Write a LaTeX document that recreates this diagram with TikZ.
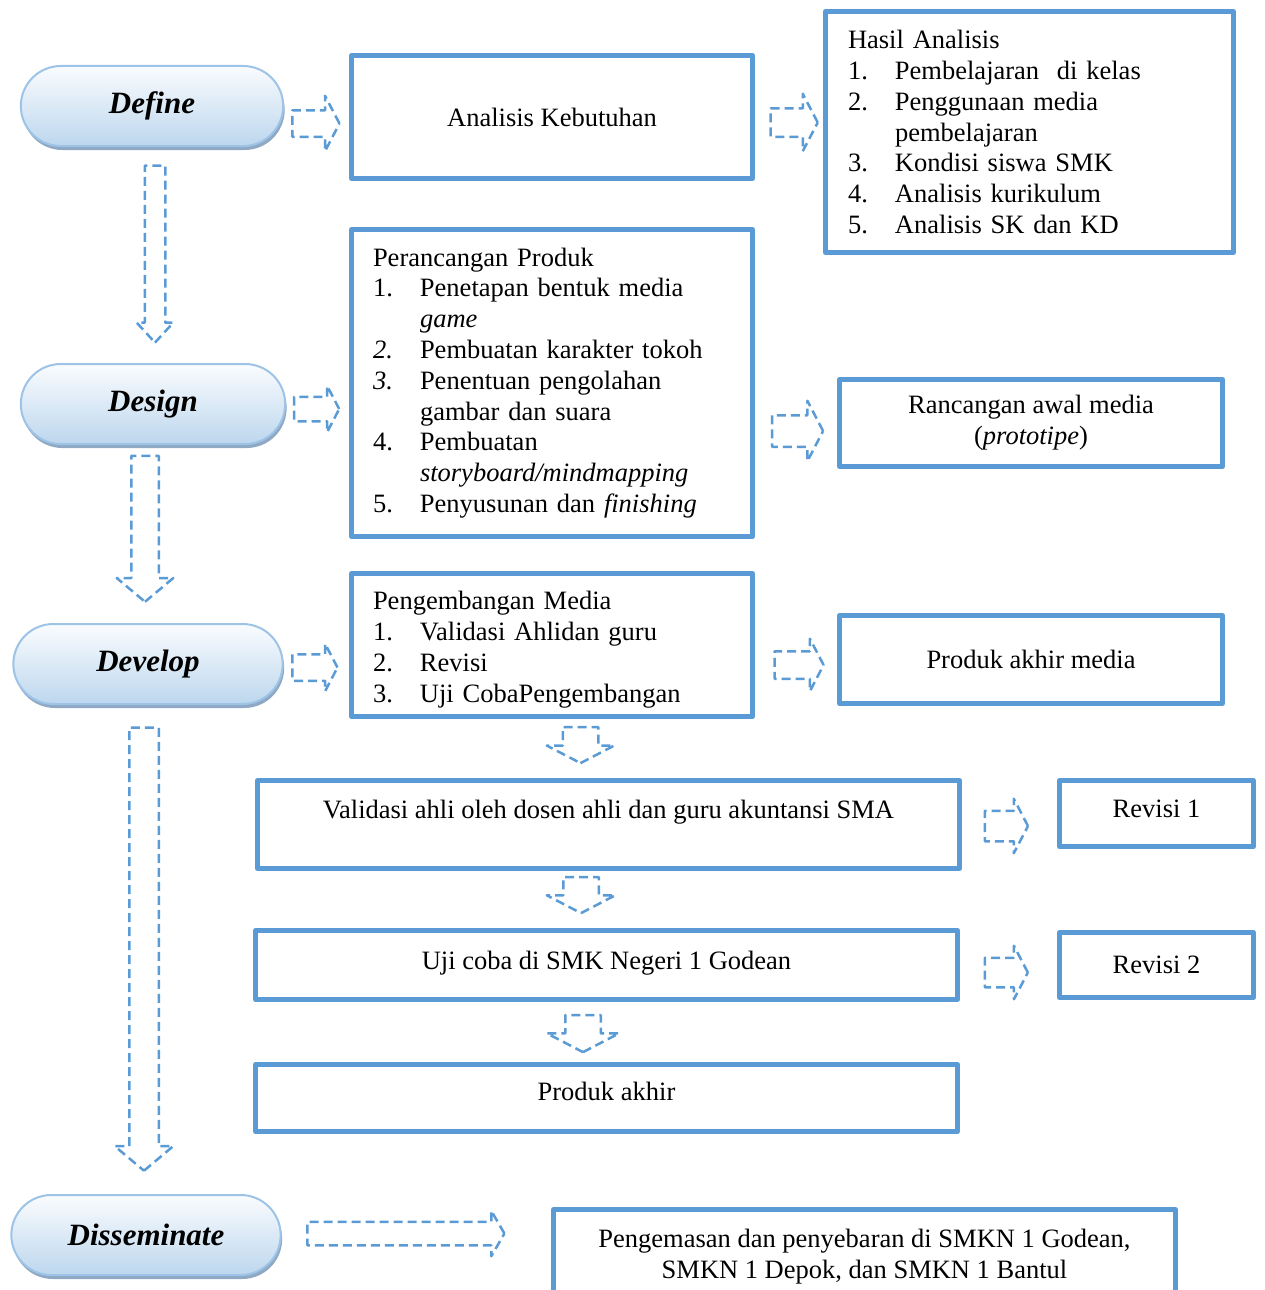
\documentclass[tikz,border=0pt]{standalone}
\usepackage{fontspec}
\setmainfont{Liberation Serif}
\usepackage{xcolor}
\usepackage{tikz}
\usetikzlibrary{shapes.misc,shapes.arrows,shadows}

\definecolor{boxblue}{RGB}{91,155,213}
\definecolor{pillline}{RGB}{157,195,230}
\definecolor{pilltop}{RGB}{250,252,254}
\definecolor{pillbot}{RGB}{189,215,238}
\definecolor{pillshadow}{RGB}{143,168,196}

\newcommand{\itm}[1]{\makebox[47pt][l]{#1}}
\newcommand{\cnt}{\hspace*{47pt}}

\begin{document}
\begin{tikzpicture}[x=1pt,y=-1pt,line join=round,
  every node/.style={font=\fontsize{26.5}{30.8}\selectfont},
  stage/.style={rounded rectangle,draw=pillline,line width=2pt,
    top color=pilltop,bottom color=pillbot,minimum height=80pt,
    font=\fontsize{31}{36}\selectfont\bfseries\itshape,
    drop shadow={shadow xshift=1.5pt,shadow yshift=-4pt,fill=pillshadow,opacity=1}},
  stepbox/.style={draw=boxblue,line width=5pt,fill=white,inner sep=0pt},
  blk/.style n args={4}{single arrow,draw=boxblue,line width=2.5pt,
    dash pattern=on 9pt off 5pt,inner xsep=0pt,inner ysep={#3*0.5pt},
    minimum height=#1pt,single arrow head extend={(#2-#3)*0.5pt},
    single arrow tip angle=#4,single arrow head indent=0pt}]
  \useasboundingbox (0,0) rectangle (1264,1290);

  % stages
  \node[stage,minimum width=269pt] (define) at (152,106) {Define};
  \node[stage,minimum width=271pt] (design) at (153,404) {Design};
  \node[stage,minimum width=276pt] (develop) at (148,664) {Develop};
  \node[stage,minimum width=276pt] (dissem) at (146,1235) {Disseminate};

  % boxes
  \node[stepbox,minimum width=401pt,minimum height=123pt] (analisis) at (552,117) {Analisis Kebutuhan};
  \node[stepbox,minimum width=408pt,minimum height=241pt,text width=363pt,align=left] (hasil) at (1029.5,132) {Hasil Analisis\\
    \itm{1.}Pembelajaran\ \ di kelas\\
    \itm{2.}Penggunaan media\\
    \cnt pembelajaran\\
    \itm{3.}Kondisi siswa SMK\\
    \itm{4.}Analisis kurikulum\\
    \itm{5.}Analisis SK dan KD};
  \node[stepbox,minimum width=401pt,minimum height=307pt,text width=358pt,align=left] (rancang) at (552,383) {Perancangan Produk\\
    \itm{1.}Penetapan bentuk media\\
    \cnt\textit{game}\\
    \itm{\textit{2.}}Pembuatan karakter tokoh\\
    \itm{\textit{3.}}Penentuan pengolahan\\
    \cnt gambar dan suara\\
    \itm{4.}Pembuatan\\
    \cnt\textit{storyboard/mindmapping}\\
    \itm{5.}Penyusunan dan \textit{finishing}};
  \node[stepbox,minimum width=383pt,minimum height=87pt,align=center] (awal) at (1031,423) {Rancangan awal media\\(\textit{prototipe})};
  \node[stepbox,minimum width=401pt,minimum height=143pt,text width=358pt,align=left] (kembang) at (552,645) {\rule{0pt}{28pt}Pengembangan Media\\
    \itm{1.}Validasi Ahlidan guru\\
    \itm{2.}Revisi\\
    \itm{3.}Uji CobaPengembangan};
  \node[stepbox,minimum width=383pt,minimum height=88pt] (akhirmedia) at (1031,659.5) {Produk akhir media};
  \node[stepbox,minimum width=702pt,minimum height=88pt,align=center] (validasi) at (608.5,824.5) {Validasi ahli oleh dosen ahli dan guru akuntansi SMA\\\mbox{}};
  \node[stepbox,minimum width=194pt,minimum height=66pt] (revisisatu) at (1156.5,813.5) {\rule[-10pt]{0pt}{10pt}Revisi 1};
  \node[stepbox,minimum width=702pt,minimum height=69pt] (ujicoba) at (606.5,965) {\rule[-10pt]{0pt}{10pt}Uji coba di SMK Negeri 1 Godean};
  \node[stepbox,minimum width=194pt,minimum height=65pt] (revisidua) at (1156.5,965) {Revisi 2};
  \node[stepbox,minimum width=702pt,minimum height=67pt] (produkakhir) at (606.5,1098) {\rule[-14pt]{0pt}{14pt}Produk akhir};
  \node[stepbox,minimum width=622pt,minimum height=87pt,align=center] (kemas) at (864.5,1253) {\rule{0pt}{25pt}Pengemasan dan penyebaran di SMKN 1 Godean,\\SMKN 1 Depok, dan SMKN 1 Bantul};

  % block arrows
  \node[blk={47}{53}{24}{125}] (a1) at (312.5,123.5) {};
  \node[blk={45}{44}{22}{125}] (a2) at (313.5,409) {};
  \node[blk={45}{45}{24}{125}] (a3) at (311.5,667.5) {};
  \node[blk={197}{43}{21}{120}] (a4) at (402.5,1233.5) {};
  \node[blk={47}{55}{26}{125}] (a5) at (790.5,122.5) {};
  \node[blk={51}{58}{29}{125}] (a6) at (793.5,431) {};
  \node[blk={49}{50}{25}{125}] (a7) at (795.5,665) {};
  \node[blk={43}{52}{28}{125}] (a8) at (1002.5,826) {};
  \node[blk={43}{51}{27}{125}] (a9) at (1002.5,972.5) {};
  \node[blk={177}{34}{18}{85},rotate=-90] (d1) at (155,248.5) {};
  \node[blk={146}{54}{25}{100},rotate=-90] (d2) at (145,523) {};
  \node[blk={443}{56}{27}{100},rotate=-90] (d3) at (144,943) {};
  \node[blk={36}{65}{33}{125},rotate=-90] (d4) at (580.5,740.5) {};
  \node[blk={36}{66}{33}{125},rotate=-90] (d5) at (581,890.5) {};
  \node[blk={37}{70}{33}{125},rotate=-90] (d6) at (583,1029) {};
\end{tikzpicture}
\end{document}
